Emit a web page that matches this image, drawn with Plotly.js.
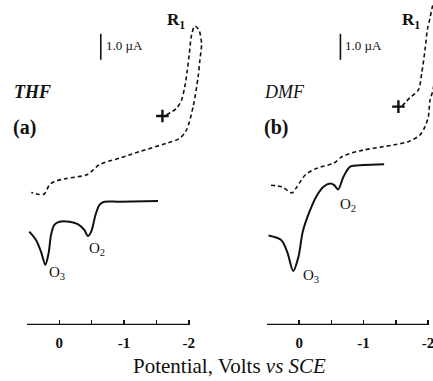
<!DOCTYPE html>
<html>
<head>
<meta charset="utf-8">
<script src="https://cdn.plot.ly/plotly-3.0.1.min.js"></script>
<style>html,body{margin:0;padding:0;background:#fff;}#chart{width:433px;height:381px;}</style>
</head>
<body>
<div id="chart"></div>
<script>
// ---- Data (potential in V vs SCE, current in µA, relative) ----
// Panel (a) THF
const thfAnodicV = [0.465,0.361,0.284,0.217,0.166,0.129,0.078,0.0,-0.155,-0.284,-0.388,-0.439,-0.492,-0.558,-0.620,-0.698,-0.930,-1.524];
const thfAnodicI = [3.59,3.27,2.82,2.31,2.76,3.46,3.85,3.97,3.97,3.88,3.65,3.42,3.59,4.23,4.62,4.74,4.74,4.77];
const thfCathodicV = [-1.654,-1.809,-1.887,-1.938,-1.977,-2.005,-2.042,-2.093,-2.155,-2.197,-2.171,-2.144,-2.067,-1.964,-1.860,-1.654,-1.240,-0.930,-0.620,-0.434,-0.104,0.078,0.155,0.233,0.310,0.434];
const thfCathodicI = [8.08,8.33,8.65,9.17,9.81,10.38,11.15,11.5,11.35,10.83,10.19,9.55,8.40,7.50,7.18,6.99,6.67,6.42,6.17,5.79,5.63,5.52,5.38,5.04,5.02,5.10];
const thfStartV = [-1.592];
const thfStartI = [8.04];
// Panel (b) DMF
const dmfAnodicV = [0.476,0.279,0.186,0.093,0.011,-0.054,-0.155,-0.279,-0.377,-0.481,-0.543,-0.605,-0.687,-0.791,-0.997,-1.318];
const dmfAnodicI = [3.44,3.27,2.81,2.08,2.63,3.58,4.33,5.00,5.32,5.44,5.38,5.21,5.70,6.09,6.15,6.18];
const dmfCathodicV = [-1.597,-1.721,-1.850,-1.902,-1.953,-1.989,-2.031,-2.062,-2.093,-2.124,-2.124,-2.078,-2.031,-2.005,-1.953,-1.876,-1.721,-1.462,-1.307,-0.997,-0.791,-0.662,-0.532,-0.274,-0.093,0.036,0.113,0.264,0.450];
const dmfCathodicI = [8.42,8.75,9.04,9.68,10.58,11.35,11.81,12.19,12.42,11.73,10.19,9.04,8.65,8.01,7.63,7.31,7.08,6.92,6.86,6.73,6.60,6.47,6.22,6.03,5.77,5.31,5.08,5.31,5.38];
const dmfStartV = [-1.540];
const dmfStartI = [8.40];
// Axis ticks
const tickValues = [0.5, 0, -0.5, -1, -1.5, -2];
const tickLabels = ['', '0', '', '-1', '', '-2'];
const scaleBarI = [10.2, 11.2]; // 1.0 µA
const scaleBarV = -0.64;

const ink = '#111';
const serif = '"Liberation Serif", "Times New Roman", serif';

function solid(x, y, xa, ya) {
  return {x, y, xaxis: xa, yaxis: ya, mode: 'lines', line: {color: ink, width: 2, shape: 'spline', smoothing: 0.8}, hoverinfo: 'skip', showlegend: false};
}
function dashed(x, y, xa, ya) {
  return {x, y, xaxis: xa, yaxis: ya, mode: 'lines', line: {color: ink, width: 1.6, dash: '4px,3px', shape: 'spline', smoothing: 0.8}, hoverinfo: 'skip', showlegend: false};
}
function plus(x, y, xa, ya) {
  return {x, y, xaxis: xa, yaxis: ya, mode: 'markers', marker: {symbol: 'cross-thin', size: 9, line: {color: ink, width: 2.4}}, hoverinfo: 'skip', showlegend: false};
}

const data = [
  solid(thfAnodicV, thfAnodicI, 'x', 'y'),
  dashed(thfCathodicV, thfCathodicI, 'x', 'y'),
  plus(thfStartV, thfStartI, 'x', 'y'),
  solid(dmfAnodicV, dmfAnodicI, 'x2', 'y2'),
  dashed(dmfCathodicV, dmfCathodicI, 'x2', 'y2'),
  plus(dmfStartV, dmfStartI, 'x2', 'y2')
];

const W = 433, PB = 325;
const px = v => v / W;
const py = v => (PB - v) / PB;

function xax(domain, range) {
  return {domain, range, showgrid: false, zeroline: false, showline: false,
    ticks: 'inside', ticklen: 5, tickwidth: 1.5, tickcolor: ink,
    tickmode: 'array', tickvals: tickValues, ticktext: tickLabels,
    ticklabeloverflow: 'allow', ticklabelstandoff: 7,
    tickfont: {family: serif, size: 15, color: ink, weight: 'bold'}, fixedrange: true};
}
function yax(anchor) {
  return {domain: [0, 1], range: [0, PB / 26], visible: false, anchor, fixedrange: true};
}

function ann(text, x, y, opts) {
  return Object.assign({text, x: px(x), y: py(y), xref: 'paper', yref: 'paper', showarrow: false,
    font: {family: serif, size: 16, color: ink}, xanchor: 'center', yanchor: 'middle'}, opts || {});
}

const layout = {
  width: 433, height: 381,
  margin: {l: 0, r: 0, t: 0, b: 56},
  paper_bgcolor: '#fff', plot_bgcolor: '#fff',
  xaxis: xax([27 / W, 205 / W], [0.5, -2.25]),
  yaxis: yax('x'),
  xaxis2: Object.assign(xax([267 / W, 1], [0.5, -2.077]), {anchor: 'y2'}),
  yaxis2: yax('x2'),
  shapes: [
    {type: 'line', xref: 'x', yref: 'y', x0: 0.5, x1: -2, y0: 0, y1: 0, line: {color: ink, width: 2.5}},
    {type: 'line', xref: 'x2', yref: 'y2', x0: 0.5, x1: -2, y0: 0, y1: 0, line: {color: ink, width: 2.5}},
    {type: 'line', xref: 'x', yref: 'y', x0: scaleBarV, x1: scaleBarV, y0: scaleBarI[0], y1: scaleBarI[1], line: {color: ink, width: 1.6}},
    {type: 'line', xref: 'x2', yref: 'y2', x0: scaleBarV, x1: scaleBarV, y0: scaleBarI[0], y1: scaleBarI[1], line: {color: ink, width: 1.6}}
  ],
  annotations: [
    ann('<b><i>THF</i></b>', 12, 92, {xanchor: 'left', font: {family: serif, size: 18, color: ink}}),
    ann('<b>(a)</b>', 11, 127, {xanchor: 'left', font: {family: serif, size: 20, color: ink}}),
    ann('<i>DMF</i>', 262, 92, {xanchor: 'left', font: {family: serif, size: 18, color: ink}}),
    ann('<b>(b)</b>', 262, 127, {xanchor: 'left', font: {family: serif, size: 20, color: ink}}),
    ann('<b>R<sub>1</sub></b>', 165, 21, {xanchor: 'left', font: {family: serif, size: 17, color: ink}}),
    ann('<b>R<sub>1</sub></b>', 400, 21, {xanchor: 'left', font: {family: serif, size: 17, color: ink}}),
    ann('1.0 µA', 104, 46, {xanchor: 'left', font: {family: serif, size: 13, color: ink}}),
    ann('1.0 µA', 343, 46, {xanchor: 'left', font: {family: serif, size: 13, color: ink}}),
    ann('O<sub>3</sub>', 57, 273, {font: {family: serif, size: 15, color: ink}}),
    ann('O<sub>2</sub>', 97, 249, {font: {family: serif, size: 15, color: ink}}),
    ann('O<sub>3</sub>', 311, 276, {font: {family: serif, size: 15, color: ink}}),
    ann('O<sub>2</sub>', 348, 205, {font: {family: serif, size: 15, color: ink}}),
    ann('Potential, Volts <i>vs SCE</i>', 229, 366, {font: {family: serif, size: 21, color: ink}})
  ]
};

Plotly.newPlot('chart', data, layout, {staticPlot: true, displayModeBar: false});
</script>
</body>
</html>
